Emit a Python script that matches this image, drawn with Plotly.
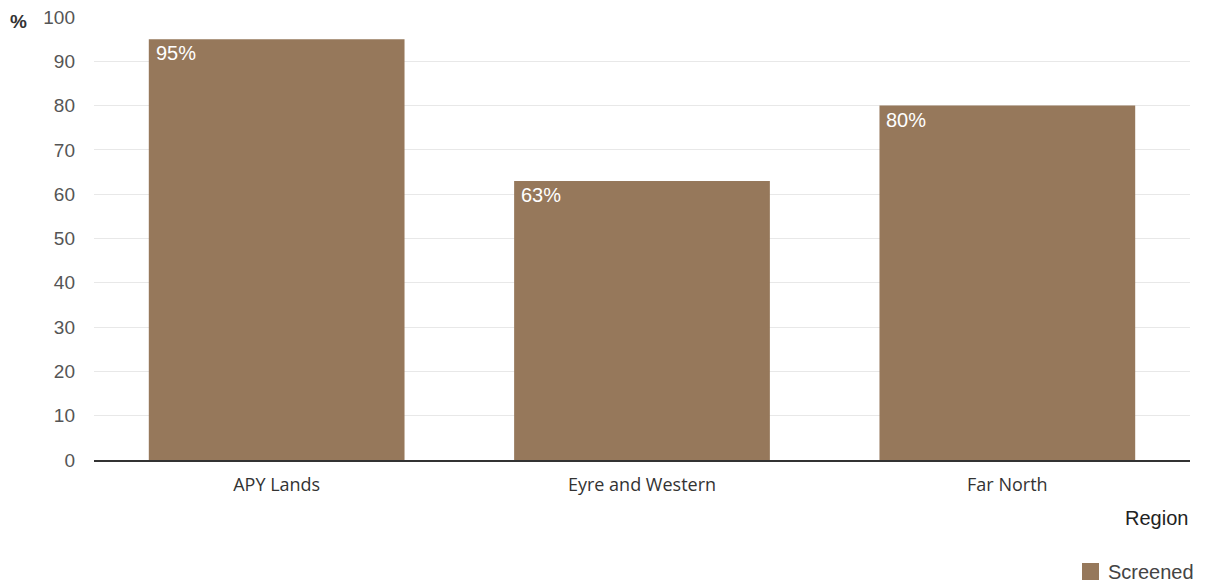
import plotly.graph_objects as go

regions = ["APY Lands", "Eyre and Western", "Far North"]
screened = [95, 63, 80]
y_ticks = [0, 10, 20, 30, 40, 50, 60, 70, 80, 90, 100]
series_name = "Screened"

bar_color = "#96785b"

fig = go.Figure()
fig.add_trace(go.Bar(
    x=regions, y=screened, name=series_name,
    marker=dict(color=bar_color, line=dict(width=0)),
    showlegend=False,
))

for r, v in zip(regions, screened):
    fig.add_annotation(
        x=r, y=v, xref="x", yref="y", text=f"{v}%", showarrow=False,
        xanchor="left", yanchor="top", xshift=-123, yshift=-1,
        font=dict(family="Liberation Sans, Arial", size=20, color="white"),
    )

fig.add_annotation(
    x=0, y=1, xref="paper", yref="paper", text="<b>%</b>", showarrow=False,
    xanchor="left", yanchor="middle", xshift=-86, yshift=-4,
    font=dict(family="Liberation Sans, Arial", size=19, color="#333333"),
)
fig.add_annotation(
    x=1, y=0, xref="paper", yref="paper", text="Region", showarrow=False,
    xanchor="right", yanchor="middle", yshift=-58,
    font=dict(family="Liberation Sans, Arial", size=20, color="#222222"),
)

# manual legend
fig.add_shape(
    type="rect", xref="paper", yref="paper",
    x0=(1082 - 94) / 1096, x1=(1099 - 94) / 1096,
    y0=(460 - 580) / 443, y1=(460 - 563) / 443,
    fillcolor=bar_color, line=dict(width=0),
)
fig.add_annotation(
    x=(1106 - 94) / 1096, y=(460 - 572) / 443, xref="paper", yref="paper",
    text=series_name, showarrow=False, xanchor="left", yanchor="middle",
    font=dict(family="Liberation Sans, Arial", size=20, color="#444444"),
)

fig.update_layout(
    width=1207, height=585,
    margin=dict(l=94, r=17, t=17, b=125, autoexpand=False),
    paper_bgcolor="white", plot_bgcolor="white",
    bargap=0.3,
    showlegend=False,
    xaxis=dict(
        showgrid=False, showline=True, linecolor="#333333", linewidth=1.5,
        tickfont=dict(family="Open Sans, Lato", size=18, color="#333333"),
        ticks="", ticklabelstandoff=8,
    ),
    yaxis=dict(
        range=[0, 100], tickvals=y_ticks, showgrid=True, gridcolor="#e8e8e8",
        gridwidth=1, zeroline=False, showline=False,
        tickfont=dict(family="Liberation Sans, Arial", size=19, color="#555555"),
        ticks="", ticklabelstandoff=18,
    ),
)

fig.write_html("out.html")
